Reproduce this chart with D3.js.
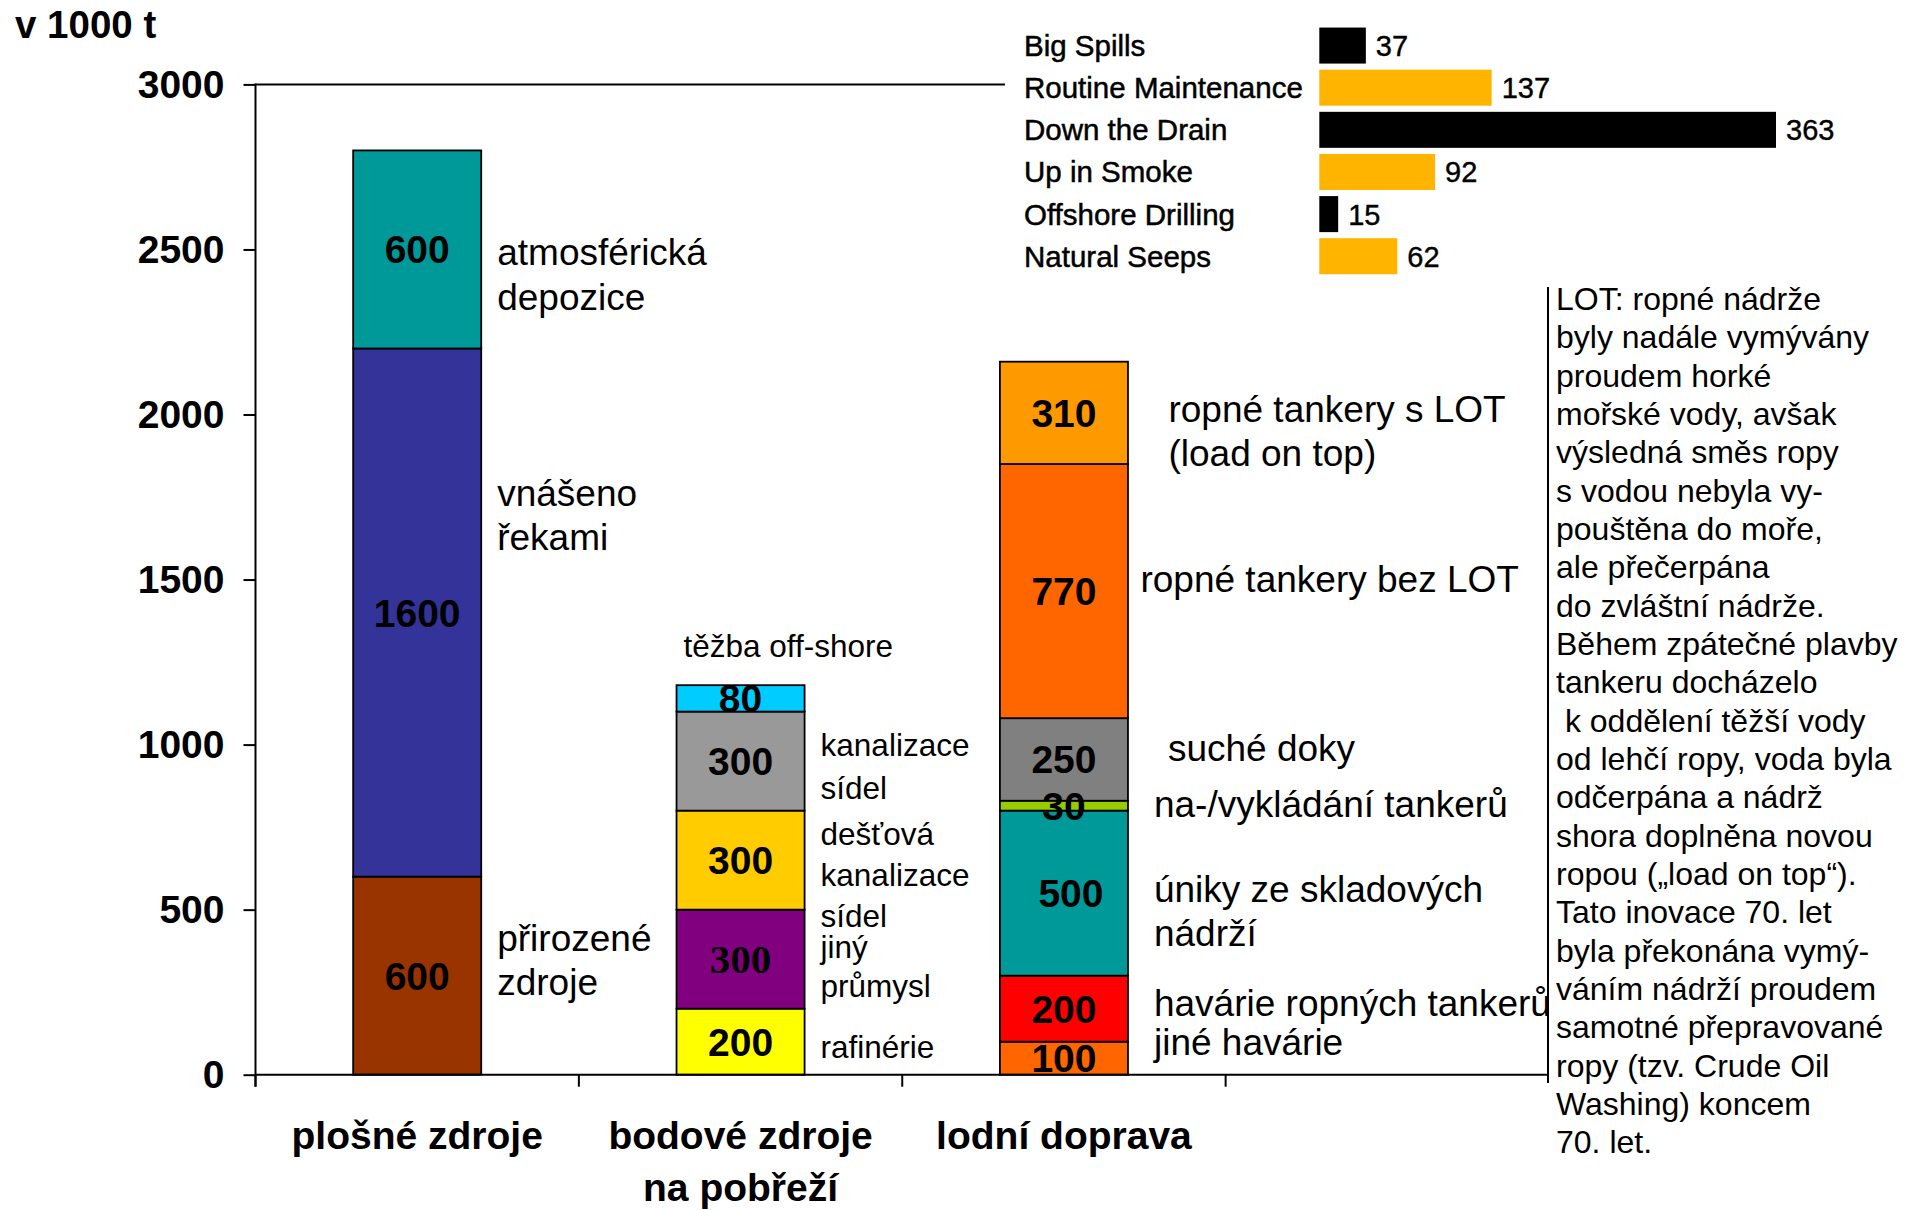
<!DOCTYPE html>
<html>
<head>
<meta charset="utf-8">
<script src="https://cdn.jsdelivr.net/npm/d3@7"></script>
<style>
  html, body { margin: 0; padding: 0; background: #fff; }
  svg { display: block; font-family: "Liberation Sans", Arial, sans-serif; }
</style>
</head>
<body>
<svg id="chart" width="1917" height="1210"></svg>
<script>
// Oil entering the sea (thousand tonnes per year), grouped by kind of source.
const categories = ["plošné zdroje", "bodové zdroje|na pobřeží", "lodní doprava", ""];
const yTicks = [0, 500, 1000, 1500, 2000, 2500, 3000];

// Each stack is listed from the bottom segment upwards.
const diffuseValues = [600, 1600, 600];
const diffuseLabels = [["přirozené", "zdroje"], ["vnášeno", "řekami"], ["atmosférická", "depozice"]];

const coastalValues = [200, 300, 300, 300, 80];
const coastalLabels = [["rafinérie"], ["jiný", "průmysl"], ["dešťová", "kanalizace", "sídel"], ["kanalizace", "sídel"], ["těžba off-shore"]];

const shippingValues = [100, 200, 500, 30, 250, 770, 310];
const shippingLabels = [["jiné havárie"], ["havárie ropných tankerů"], ["úniky ze skladových", "nádrží"],
  ["na-/vykládání tankerů"], ["suché doky"], ["ropné tankery bez LOT"], ["ropné tankery s LOT", "(load on top)"]];

// Small inset bar chart
const insetCategories = ["Big Spills", "Routine Maintenance", "Down the Drain", "Up in Smoke", "Offshore Drilling", "Natural Seeps"];
const insetValues = [37, 137, 363, 92, 15, 62];

// Side note about load-on-top tankers
const noteLines = [
  "LOT: ropné nádrže",
  "byly nadále vymývány",
  "proudem horké",
  "mořské vody, avšak",
  "výsledná směs ropy",
  "s vodou nebyla vy-",
  "pouštěna do moře,",
  "ale přečerpána",
  "do zvláštní nádrže.",
  "Během zpátečné plavby",
  "tankeru docházelo",
  " k oddělení těžší vody",
  "od lehčí ropy, voda byla",
  "odčerpána a nádrž",
  "shora doplněna novou",
  "ropou („load on top“).",
  "Tato inovace 70. let",
  "byla překonána vymý-",
  "váním nádrží proudem",
  "samotné přepravované",
  "ropy (tzv. Crude Oil",
  "Washing) koncem",
  "70. let."
];

// ---- styling ----
const diffuseColors = ["#993300", "#333399", "#009999"];
const coastalColors = ["#ffff00", "#800080", "#ffcc00", "#999999", "#00ccff"];
const shippingColors = ["#ff6600", "#ff0000", "#009999", "#99cc00", "#808080", "#ff6600", "#ff9900"];
const insetColors = ["#000000", "#ffb400", "#000000", "#ffb400", "#000000", "#ffb400"];

// label placement: dx from bar edge, dy of first baseline from segment centre, line height,
// vdx = horizontal nudge of the value label inside the bar
const diffuseLayout = [{dx: 16, dy: -25, lh: 44}, {dx: 16, dy: -107, lh: 44}, {dx: 16, dy: 16, lh: 45}];
const coastalLayout = [{dx: 16, dy: 16, lh: 42}, {dx: 16, dy: -1, lh: 39}, {dx: 16, dy: -15, lh: 41},
  {dx: 16, dy: -5, lh: 43}, {dx: 7, dy: -41, lh: 42, fromLeft: true}];
const shippingLayout = [{dx: 26, dy: -3, lh: 44}, {dx: 26, dy: 7, lh: 44}, {dx: 26, dy: 9, lh: 44, vdx: 7},
  {dx: 26, dy: 11, lh: 44}, {dx: 40, dy: 2, lh: 44}, {dx: 12.5, dy: 1, lh: 44}, {dx: 40.5, dy: 9, lh: 44}];

const svg = d3.select("#chart");
const W = 1917, H = 1210;
svg.append("rect").attr("width", W).attr("height", H).attr("fill", "#fff");

const plot = {left: 255.5, right: 1549, top: 84.4, bottom: 1074.7};

const x = d3.scaleBand().domain(categories).range([plot.left, plot.right]).paddingInner(0).paddingOuter(0);
const y = d3.scaleLinear().domain([0, 3000]).range([plot.bottom, plot.top]);
const barW = x.bandwidth() * 0.396;

// y axis title
svg.append("text").attr("x", 15).attr("y", 38)
  .attr("font-size", 38.5).attr("font-weight", "bold").text("v 1000 t");

// frame top line (partly hidden later by the inset)
const insetLeft = 1005;
svg.append("line").attr("x1", plot.left).attr("x2", insetLeft)
  .attr("y1", y(3000)).attr("y2", y(3000)).attr("stroke", "#000").attr("stroke-width", 2);

// y axis
const yAxis = d3.axisLeft(y).tickValues(yTicks).tickSize(12).tickSizeOuter(0).tickPadding(19).tickFormat(d3.format("d"));
const gy = svg.append("g").attr("transform", `translate(${plot.left},0)`).call(yAxis);
gy.select(".domain").remove();
gy.selectAll(".tick line").attr("stroke", "#000").attr("stroke-width", 2);
gy.selectAll(".tick text").attr("font-size", 39).attr("font-weight", "bold")
  .attr("font-family", "'Liberation Sans', Arial, sans-serif").attr("fill", "#000").attr("dy", "0.34em");
svg.append("line").attr("x1", plot.left).attr("x2", plot.left)
  .attr("y1", plot.top - 1).attr("y2", plot.bottom + 12).attr("stroke", "#000").attr("stroke-width", 2);

// stacked bars
function drawStack(cat, values, colors, labels, layout, serifIndex) {
  const cx = x(cat) + x.bandwidth() / 2;
  const x0 = cx - barW / 2, x1 = cx + barW / 2;
  let base = 0;
  const segs = values.map((v, i) => {
    const s = {v, i, lo: base, hi: base + v};
    base += v;
    return s;
  });
  const g = svg.append("g");
  g.selectAll("rect").data(segs).join("rect")
    .attr("x", x0).attr("width", barW)
    .attr("y", d => y(d.hi)).attr("height", d => y(d.lo) - y(d.hi))
    .attr("fill", d => colors[d.i]).attr("stroke", "#000").attr("stroke-width", 1.8);

  g.selectAll("text.val").data(segs).join("text").attr("class", "val")
    .attr("x", d => cx + (layout[d.i].vdx || 0)).attr("y", d => y((d.lo + d.hi) / 2) + 14)
    .attr("text-anchor", "middle")
    .attr("font-size", d => d.i === serifIndex ? 41 : 39)
    .attr("font-weight", "bold")
    .attr("font-family", d => d.i === serifIndex ? "'Liberation Serif', 'Times New Roman', serif" : null)
    .text(d => d.v);

  segs.forEach(d => {
    const L = layout[d.i];
    const cy = y((d.lo + d.hi) / 2);
    const tx = L.fromLeft ? x0 + L.dx : x1 + L.dx;
    labels[d.i].forEach((line, k) => {
      svg.append("text").attr("x", tx).attr("y", cy + L.dy + k * L.lh)
        .attr("font-size", cat === categories[1] ? 31.5 : 37)
        .text(line);
    });
  });
}

drawStack(categories[0], diffuseValues, diffuseColors, diffuseLabels, diffuseLayout, -1);
drawStack(categories[1], coastalValues, coastalColors, coastalLabels, coastalLayout, 1);
drawStack(categories[2], shippingValues, shippingColors, shippingLabels, shippingLayout, -1);

// x axis
svg.append("line").attr("x1", plot.left).attr("x2", plot.right)
  .attr("y1", plot.bottom).attr("y2", plot.bottom).attr("stroke", "#000").attr("stroke-width", 2);
categories.forEach(c => {
  const bx = x(c);
  svg.append("line").attr("x1", bx).attr("x2", bx).attr("y1", plot.bottom).attr("y2", plot.bottom + 12)
    .attr("stroke", "#000").attr("stroke-width", 2);
});
categories.forEach(c => {
  const cx = x(c) + x.bandwidth() / 2;
  c.split("|").forEach((line, k) => {
    if (!line) return;
    svg.append("text").attr("x", cx).attr("y", 1149 + k * 52)
      .attr("text-anchor", "middle").attr("font-size", 39).attr("font-weight", "bold").text(line);
  });
});

// side note box
const noteX = 1548, noteTop = 287;
svg.append("rect").attr("x", noteX + 1).attr("y", noteTop).attr("width", W - noteX).attr("height", H - noteTop).attr("fill", "#fff");
svg.append("line").attr("x1", noteX).attr("x2", noteX).attr("y1", noteTop).attr("y2", 1083)
  .attr("stroke", "#000").attr("stroke-width", 2);
svg.append("g").selectAll("text").data(noteLines).join("text")
  .attr("x", 1556).attr("y", (d, i) => 310 + i * 38.34)
  .attr("font-size", 32).attr("xml:space", "preserve").style("white-space", "pre")
  .text(d => d);

// inset bar chart
svg.append("rect").attr("x", insetLeft).attr("y", 0).attr("width", W - insetLeft).attr("height", 280).attr("fill", "#fff");
const ix = d3.scaleLinear().domain([0, 363]).range([1319.3, 1776]);
const iy = d3.scaleBand().domain(insetCategories).range([24.6, 24.6 + 42.1 * insetCategories.length]).paddingInner(0.145).paddingOuter(0.07);
const ig = svg.append("g");
ig.selectAll("rect").data(insetValues).join("rect")
  .attr("x", ix(0)).attr("y", (d, i) => iy(insetCategories[i]))
  .attr("width", d => ix(d) - ix(0)).attr("height", iy.bandwidth())
  .attr("fill", (d, i) => insetColors[i]);
ig.selectAll("text.cat").data(insetCategories).join("text").attr("class", "cat")
  .attr("x", 1024).attr("y", d => iy(d) + iy.bandwidth() / 2 + 10.5)
  .attr("font-size", 29.5).attr("stroke", "#000").attr("stroke-width", 0.5).text(d => d);
ig.selectAll("text.num").data(insetValues).join("text").attr("class", "num")
  .attr("x", d => ix(d) + 10).attr("y", (d, i) => iy(insetCategories[i]) + iy.bandwidth() / 2 + 10.5)
  .attr("font-size", 29).attr("stroke", "#000").attr("stroke-width", 0.4).text(d => d);
</script>
</body>
</html>
